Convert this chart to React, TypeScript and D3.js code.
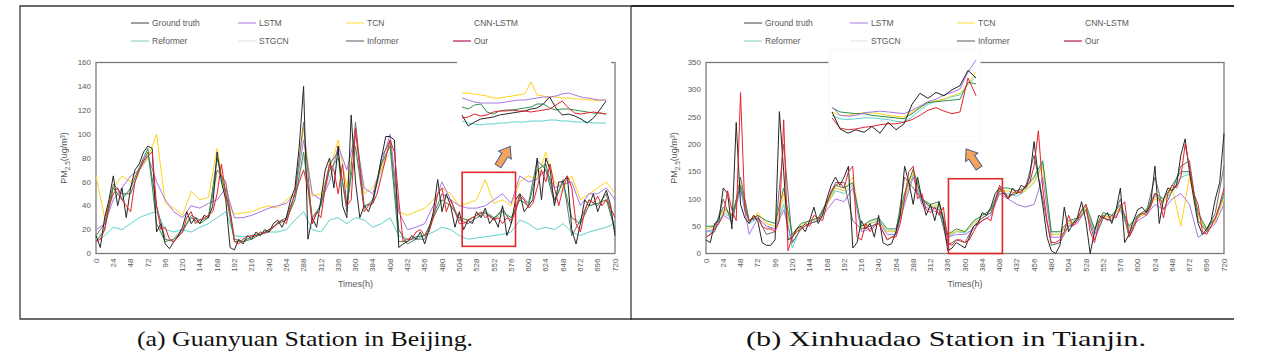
import React from "react";
import * as d3 from "d3";

// hourly grids used by the series below
const hours6 = d3.range(0, 721, 6);
const hours12 = d3.range(0, 721, 12);
const xTicks = d3.range(0, 721, 24);

// ---- (a) Guanyuan Station in Beijing ----
const bjTruth = [
  15, 5, 30, 45, 65, 40, 55, 30, 55, 70,
  75, 85, 90, 88, 18, 25, 8, 4, 10, 15,
  22, 35, 25, 30, 25, 32, 30, 40, 85, 60,
  45, 5, 3, 12, 8, 15, 12, 18, 15, 20,
  18, 25, 28, 22, 30, 45, 55, 90, 140, 12,
  30, 22, 45, 70, 80, 55, 90, 40, 30, 116,
  60, 30, 40, 35, 45, 60, 80, 98, 98, 95,
  5, 8, 10, 15, 12, 18, 8, 20, 35, 62,
  35, 50, 40, 22, 35, 20, 28, 25, 35, 30,
  38, 25, 30, 22, 40, 15, 25, 45, 50, 35,
  40, 45, 80, 45, 80, 70, 40, 60, 60, 65,
  20, 8, 25, 45, 40, 50, 35, 45, 53, 40,
  15,
];
const bjOur = [
  10, 12, 20, 40, 50, 55, 45, 40, 35, 60,
  70, 78, 82, 85, 40, 20, 22, 12, 10, 14,
  18, 30, 35, 25, 28, 30, 32, 35, 50, 75,
  50, 35, 10, 8, 12, 14, 15, 15, 18, 17,
  20, 22, 25, 28, 25, 38, 50, 60, 70, 55,
  25, 35, 30, 55, 75, 70, 50, 75, 40, 45,
  105, 70, 35, 40, 42, 50, 65, 80, 95, 85,
  45, 10, 12, 12, 18, 20, 15, 18, 30, 50,
  55, 35, 45, 35, 25, 25, 28, 30, 32, 35,
  30, 32, 28, 30, 25, 30, 28, 35, 48, 45,
  38, 42, 55, 70, 60, 75, 55, 40, 55, 65,
  55, 25, 18, 35, 45, 42, 48, 40, 45, 38,
  30,
];
const bjTcn = [
  65, 30, 55, 65, 60, 70, 80, 100, 42, 38,
  32, 52, 45, 47, 88, 45, 33, 34, 35, 38,
  40, 38, 45, 50, 105, 48, 50, 70, 95, 55,
  100, 50, 55, 70, 95, 35, 32, 35, 38, 45,
  55, 50, 40, 42, 45, 62, 42, 45, 40, 60,
  65, 62, 85, 60, 55, 65, 45, 50, 55, 60,
  50,
];
const bjLstm = [
  20, 25, 45, 55, 65, 70, 82, 60, 45, 35,
  30, 40, 38, 42, 45, 55, 30, 30, 32, 35,
  38, 40, 42, 50, 95, 50, 45, 60, 90, 70,
  100, 55, 50, 75, 100, 35, 20, 22, 25, 40,
  60, 45, 40, 38, 38, 40, 45, 50, 42, 65,
  60, 62, 70, 55, 58, 60, 40, 50, 50, 55,
  45,
];
const bjReformer = [
  10, 15, 22, 20, 25, 30, 33, 35, 20, 18,
  20, 18, 22, 25, 30, 35, 15, 14, 15, 17,
  18, 18, 20, 28, 35, 20, 18, 28, 30, 25,
  30, 28, 22, 25, 30, 15, 12, 12, 15, 18,
  22, 20, 15, 12, 13, 14, 15, 16, 18, 28,
  25, 20, 22, 20, 25, 18, 15, 18, 20, 22,
  25,
];
const bjCnnLstm = [
  10, 20, 55, 45, 55, 72, 88, 25, 10, 12,
  20, 30, 25, 30, 80, 50, 10, 10, 14, 16,
  20, 25, 28, 45, 85, 30, 40, 70, 80, 40,
  90, 38, 45, 75, 90, 10, 10, 14, 15, 30,
  45, 40, 30, 28, 32, 35, 30, 35, 30, 45,
  40, 70, 75, 45, 60, 30, 25, 40, 42, 45,
  20,
];
const bjInformer = [
  15, 25, 58, 50, 50, 70, 85, 40, 12, 10,
  18, 32, 28, 30, 70, 60, 12, 10, 12, 16,
  18, 26, 30, 50, 110, 25, 42, 75, 85, 35,
  110, 40, 42, 80, 95, 20, 8, 12, 12, 32,
  50, 45, 28, 25, 30, 34, 28, 38, 25, 50,
  42, 78, 70, 42, 62, 15, 28, 45, 40, 50,
  18,
];
const bjStgcn = [
  12, 22, 50, 48, 52, 68, 80, 35, 15, 14,
  20, 30, 27, 30, 65, 55, 15, 12, 15, 17,
  20, 24, 28, 45, 80, 30, 38, 65, 75, 40,
  85, 40, 42, 70, 85, 20, 12, 14, 16, 30,
  45, 40, 30, 28, 30, 32, 30, 32, 30, 45,
  42, 65, 70, 45, 55, 30, 28, 40, 42, 45,
  30,
];
// zoomed window (hours 506-581)
const bjInsetTcn = [42, 42, 41, 40, 39, 37, 37, 38, 39, 40, 41, 53, 40, 39, 38, 38, 37, 37, 36, 36, 35, 35, 34, 36];
const bjInsetLstm = [37, 35, 33, 32, 32, 32, 32, 33, 34, 35, 35, 36, 37, 38, 38, 39, 41, 42, 40, 38, 37, 36, 35, 35];
const bjInsetCnn = [28, 26, 30, 31, 23, 21, 24, 25, 25, 26, 27, 28, 31, 31, 27, 25, 26, 26, 25, 24, 23, 22, 22, 21];
const bjInsetOur = [17, 18, 21, 19, 20, 23, 24, 24, 25, 24, 24, 23, 24, 25, 26, 30, 34, 27, 22, 21, 22, 23, 22, 21];
const bjInsetTruth = [20, 9, 13, 16, 17, 18, 20, 21, 22, 23, 24, 26, 27, 31, 38, 27, 20, 21, 19, 16, 12, 17, 25, 34];
const bjInsetReformer = [14, 12, 11, 10, 11, 11, 12, 12, 13, 13, 13, 14, 14, 14, 15, 15, 14, 14, 13, 13, 13, 12, 12, 12];

// ---- (b) Xinhuadao Station in Tianjin ----
const tjTruth = [
  25, 20, 55, 60, 120, 110, 45, 240, 90, 65,
  55, 70, 60, 20, 15, 15, 25, 260, 150, 25,
  30, 45, 50, 40, 60, 85, 55, 70, 100, 125,
  140, 125, 140, 160, 10, 20, 60, 45, 55, 30,
  70, 20, 15, 18, 40, 70, 160, 130, 90, 140,
  100, 70, 90, 60, 95, 60, 5, 10, 20, 15,
  10, 30, 50, 55, 75, 70, 85, 110, 120, 110,
  100, 120, 110, 125, 120, 140, 205, 140, 90, 30,
  5, 0, 15, 85, 40, 55, 65, 95, 60, 0,
  40, 70, 65, 75, 55, 80, 120, 20, 35, 60,
  80, 85, 75, 90, 160, 55, 100, 120, 115, 125,
  180, 210, 150, 100, 55, 35, 45, 60, 100, 130,
  220,
];
const tjOur = [
  30, 35, 45, 55, 70, 115, 80, 60, 295, 80,
  60, 65, 70, 50, 45, 45, 40, 60, 245, 5,
  30, 40, 45, 55, 50, 70, 65, 60, 90, 115,
  125, 130, 120, 150, 160, 30, 25, 55, 40, 50,
  55, 40, 25, 30, 30, 55, 100, 150, 160, 100,
  110, 80, 75, 85, 70, 85, 20, 15, 25, 25,
  20, 25, 40, 55, 60, 65, 60, 95, 125, 115,
  100, 110, 115, 110, 125, 130, 160, 225, 120, 60,
  20, 20, 25, 40, 70, 50, 60, 80, 90, 40,
  20, 55, 70, 60, 70, 65, 85, 95, 30, 45,
  65, 75, 70, 85, 110, 100, 65, 110, 125, 120,
  140, 200, 160, 110, 90, 40, 35, 50, 65, 90,
  120,
];
const tjLstm = [
  40, 45, 70, 60, 120, 35, 65, 50, 45, 80,
  20, 45, 55, 60, 80, 100, 95, 120, 40, 45,
  60, 35, 35, 90, 140, 90, 80, 75, 30, 35,
  35, 45, 60, 70, 110, 100, 90, 85, 90, 140,
  30, 30, 50, 55, 80, 35, 65, 60, 80, 40,
  60, 70, 90, 80, 100, 110, 90, 30, 40, 55,
  90,
];
const tjTcn = [
  45, 50, 80, 70, 130, 60, 75, 55, 50, 110,
  30, 50, 60, 65, 90, 120, 115, 140, 45, 55,
  60, 40, 40, 100, 150, 100, 85, 90, 35, 40,
  40, 55, 65, 75, 115, 115, 110, 115, 130, 160,
  35, 35, 55, 60, 85, 45, 70, 65, 85, 45,
  65, 75, 100, 95, 120, 50, 140, 70, 40, 60,
  100,
];
const tjCnnLstm = [
  50, 50, 85, 70, 125, 60, 70, 60, 55, 120,
  35, 55, 60, 65, 95, 125, 120, 130, 50, 60,
  65, 45, 45, 110, 155, 100, 90, 95, 35, 45,
  40, 60, 70, 80, 120, 120, 115, 120, 140, 170,
  40, 40, 60, 65, 90, 45, 75, 70, 90, 50,
  70, 80, 110, 100, 125, 150, 150, 75, 45, 65,
  110,
];
const tjReformer = [
  40, 40, 75, 65, 115, 55, 65, 50, 45, 90,
  10, 50, 55, 60, 90, 115, 110, 125, 45, 55,
  60, 40, 40, 100, 145, 95, 85, 85, 30, 40,
  38, 55, 65, 75, 110, 110, 105, 115, 130, 165,
  35, 35, 55, 60, 85, 40, 70, 65, 85, 45,
  65, 75, 105, 95, 115, 140, 145, 70, 40, 60,
  105,
];
const tjStgcn = [
  48, 48, 80, 68, 120, 58, 68, 55, 50, 100,
  30, 52, 58, 62, 92, 120, 115, 128, 48, 58,
  62, 42, 42, 105, 150, 98, 88, 90, 32, 42,
  40, 58, 68, 78, 115, 115, 110, 118, 135, 165,
  38, 38, 58, 62, 88, 42, 72, 68, 88, 48,
  68, 78, 108, 98, 120, 145, 148, 72, 42, 62,
  108,
];
const tjInformer = [
  30, 40, 100, 55, 140, 60, 65, 35, 40, 200,
  20, 45, 55, 60, 95, 130, 130, 60, 45, 50,
  55, 25, 35, 140, 120, 100, 85, 80, 15, 25,
  20, 50, 65, 75, 115, 105, 110, 120, 180, 100,
  15, 20, 50, 60, 80, 25, 65, 60, 100, 30,
  70, 75, 140, 80, 115, 160, 170, 60, 40, 75,
  160,
];
// zoomed window (hours 336-408)
const tjInsetTruth = [33, 13, 8, 12, 9, 16, 8, 21, 12, 19, 42, 55, 49, 56, 52, 59, 64, 82, 73];
const tjInsetOur = [26, 14, 12, 13, 15, 16, 18, 19, 19, 21, 24, 29, 35, 38, 34, 31, 33, 73, 52];
const tjInsetLstm = [39, 29, 28, 29, 32, 33, 34, 33, 32, 31, 35, 40, 45, 48, 53, 56, 60, 80, 94];
const tjInsetTcn = [33, 29, 29, 31, 32, 32, 31, 29, 28, 27, 33, 39, 44, 46, 48, 52, 55, 66, 80];
const tjInsetReformer = [29, 25, 24, 25, 26, 26, 25, 24, 22, 21, 27, 35, 42, 46, 48, 51, 53, 65, 75];
const tjInsetCnn = [38, 33, 32, 31, 31, 29, 28, 27, 26, 25, 31, 38, 44, 45, 46, 47, 48, 68, 66];

const legendNames = [
  ["Ground truth", "LSTM", "TCN", "CNN-LSTM"],
  ["Reformer", "STGCN", "Informer", "Our"],
];

const colors: Record<string, string> = {
  "Ground truth": "#262626",
  LSTM: "#a676e8",
  TCN: "#ffd21a",
  "CNN-LSTM": "#2f8f4e",
  Reformer: "#5ad4c8",
  STGCN: "#cfe8d6",
  Informer: "#6e6e6e",
  Our: "#e8222c",
};
const legendColors: Record<string, string> = {
  "Ground truth": "#777",
  LSTM: "#c0a0f0",
  TCN: "#ffe56a",
  "CNN-LSTM": "none",
  Reformer: "#a6dcd6",
  STGCN: "#e8efe9",
  Informer: "#888",
  Our: "#c23a78",
};

const font = "'Liberation Sans', Arial, sans-serif";
const txt = "#595959";

type Series = { name: string; hours: number[]; values: number[] };

type PanelCfg = {
  left: number; right: number; top: number; bottom: number;
  yMax: number; yStep: number;
  series: Series[];
  inset: { name: string; values: number[] }[];
  insetBox: [number, number, number, number];
  insetX: [number, number]; insetY: [number, number]; insetMax: number;
  zoomHours: [number, number]; zoomVals: [number, number];
  arrow: [number, number, number];
  legendX: number[];
  yLabelX: number;
  faintInset: boolean;
};

const Arrow = ({ x, y, angle }: { x: number; y: number; angle: number }) => (
  <polygon
    points="0,-3.5 13,-3.5 13,-7.5 23,0 13,7.5 13,3.5 0,3.5"
    transform={`translate(${x},${y}) rotate(${angle})`}
    fill="#f4a45c"
    stroke="#4d5f8a"
    strokeWidth={1}
  />
);

const Panel = ({ c }: { c: PanelCfg }) => {
  const x = d3.scaleLinear().domain([0, 720]).range([c.left, c.right]);
  const y = d3.scaleLinear().domain([0, c.yMax]).range([c.bottom, c.top]);
  const yTicks = d3.range(0, c.yMax + 1, c.yStep);
  const n = c.inset[0].values.length;
  const ix = d3.scaleLinear().domain([0, n - 1]).range(c.insetX);
  const iy = d3.scaleLinear().domain([0, c.insetMax]).range(c.insetY);
  const insetLine = d3.line<number>().x((_, i) => ix(i)).y((d) => iy(d));
  const [bx, by, bw, bh] = c.insetBox;
  return (
    <g>
      {/* legend */}
      {legendNames.map((row, r) =>
        row.map((name, k) => {
          const lx = c.legendX[k];
          const ly = r === 0 ? 23 : 41;
          return (
            <g key={name}>
              {legendColors[name] !== "none" && (
                <line x1={lx} x2={lx + 18} y1={ly} y2={ly} stroke={legendColors[name]} strokeWidth={1.4} />
              )}
              <text x={lx + 21} y={ly + 3} fontSize={8.5} fill={txt} fontFamily={font}>{name}</text>
            </g>
          );
        })
      )}
      {/* plot frame */}
      <rect x={c.left} y={c.top} width={c.right - c.left} height={c.bottom - c.top} fill="none" stroke="#7a7a7a" strokeWidth={1.3} />
      {/* series */}
      {c.series.map((s) => {
        const line = d3.line<number>().x((_, i) => x(s.hours[i])).y((d) => y(d));
        return <path key={s.name} d={line(s.values) || ""} fill="none" stroke={colors[s.name]} strokeWidth={1} strokeLinejoin="round" />;
      })}
      {/* zoom box */}
      <rect
        x={x(c.zoomHours[0])}
        y={y(c.zoomVals[1])}
        width={x(c.zoomHours[1]) - x(c.zoomHours[0])}
        height={y(c.zoomVals[0]) - y(c.zoomVals[1])}
        fill="none"
        stroke="#e3262b"
        strokeWidth={1.6}
      />
      {/* inset */}
      <rect x={bx} y={by} width={bw} height={bh} fill="#fff" stroke={c.faintInset ? "#f7f7f7" : "none"} />
      {c.inset.map((s) => (
        <path key={s.name} d={insetLine(s.values) || ""} fill="none" stroke={colors[s.name]} strokeWidth={1} strokeLinejoin="round" />
      ))}
      <Arrow x={c.arrow[0]} y={c.arrow[1]} angle={c.arrow[2]} />
      {/* y axis */}
      {yTicks.map((t) => (
        <text key={t} x={c.left - 5} y={y(t)} dy="0.33em" textAnchor="end" fontSize={8} fill={txt} fontFamily={font}>{t}</text>
      ))}
      <text
        transform={`translate(${c.yLabelX},${(c.top + c.bottom) / 2}) rotate(-90)`}
        textAnchor="middle"
        fontSize={9}
        fill={txt}
        fontFamily={font}
      >
        PM<tspan fontSize={6.5} dy={2.5}>2.5</tspan><tspan dy={-2.5}>(ug/m³)</tspan>
      </text>
      {/* x axis */}
      {xTicks.map((t) => (
        <text
          key={t}
          transform={`translate(${x(t)},${c.bottom + 5}) rotate(-90)`}
          dy="0.33em"
          textAnchor="end"
          fontSize={8}
          fill={txt}
          fontFamily={font}
        >
          {t}
        </text>
      ))}
      <text x={(c.left + c.right) / 2} y={287} textAnchor="middle" fontSize={9} fill={txt} fontFamily={font}>Times(h)</text>
    </g>
  );
};

const bjPanel: PanelCfg = {
  left: 96, right: 615, top: 62.5, bottom: 253.5, yMax: 160, yStep: 20,
  series: [
    { name: "STGCN", hours: hours12, values: bjStgcn },
    { name: "Reformer", hours: hours12, values: bjReformer },
    { name: "TCN", hours: hours12, values: bjTcn },
    { name: "LSTM", hours: hours12, values: bjLstm },
    { name: "Informer", hours: hours12, values: bjInformer },
    { name: "CNN-LSTM", hours: hours12, values: bjCnnLstm },
    { name: "Ground truth", hours: hours6, values: bjTruth },
    { name: "Our", hours: hours6, values: bjOur },
  ],
  inset: [
    { name: "Reformer", values: bjInsetReformer },
    { name: "TCN", values: bjInsetTcn },
    { name: "LSTM", values: bjInsetLstm },
    { name: "CNN-LSTM", values: bjInsetCnn },
    { name: "Ground truth", values: bjInsetTruth },
    { name: "Our", values: bjInsetOur },
  ],
  insetBox: [457, 55, 154, 86],
  insetX: [462, 606], insetY: [135, 75], insetMax: 60,
  zoomHours: [508, 582], zoomVals: [6, 68],
  arrow: [498, 166, -58],
  legendX: [131, 238, 346, 453],
  yLabelX: 67,
  faintInset: false,
};

const tjPanel: PanelCfg = {
  left: 706, right: 1224, top: 62.5, bottom: 253.5, yMax: 350, yStep: 50,
  series: [
    { name: "STGCN", hours: hours12, values: tjStgcn },
    { name: "Reformer", hours: hours12, values: tjReformer },
    { name: "TCN", hours: hours12, values: tjTcn },
    { name: "LSTM", hours: hours12, values: tjLstm },
    { name: "Informer", hours: hours12, values: tjInformer },
    { name: "CNN-LSTM", hours: hours12, values: tjCnnLstm },
    { name: "Ground truth", hours: hours6, values: tjTruth },
    { name: "Our", hours: hours6, values: tjOur },
  ],
  inset: [
    { name: "Reformer", values: tjInsetReformer },
    { name: "TCN", values: tjInsetTcn },
    { name: "CNN-LSTM", values: tjInsetCnn },
    { name: "LSTM", values: tjInsetLstm },
    { name: "Our", values: tjInsetOur },
    { name: "Ground truth", values: tjInsetTruth },
  ],
  insetBox: [829, 50, 151, 91],
  insetX: [832, 976], insetY: [140, 55], insetMax: 100,
  zoomHours: [337, 412], zoomVals: [0, 137],
  arrow: [979, 168, -124],
  legendX: [744, 850, 957, 1064],
  yLabelX: 677,
  faintInset: true,
};

const serif = "'Liberation Serif', 'Times New Roman', serif";

const App = () => (
  <svg width={1280} height={364} style={{ position: "absolute", left: 0, top: 0, background: "#fff" }}>
    <rect width={1280} height={364} fill="#fff" />
    {/* outer frames */}
    <polyline points="631,6 20,6 20,319 631,319" fill="none" stroke="#3a3a3a" strokeWidth={1.3} />
    <line x1={631} x2={631} y1={6} y2={320} stroke="#3a3a3a" strokeWidth={1.3} />
    <line x1={631} x2={1234} y1={6} y2={6} stroke="#2a2a2a" strokeWidth={2} />
    <line x1={631} x2={1234} y1={319} y2={319} stroke="#2a2a2a" strokeWidth={1.6} />
    <Panel c={bjPanel} />
    <Panel c={tjPanel} />
    <text x={305} y={346} textAnchor="middle" fontSize={22} fontFamily={serif} fill="#111" textLength={336} lengthAdjust="spacingAndGlyphs">
      (a) Guanyuan Station in Beijing.
    </text>
    <text x={946} y={346} textAnchor="middle" fontSize={22} fontFamily={serif} fill="#111" textLength={400} lengthAdjust="spacingAndGlyphs">
      (b) Xinhuadao Station in Tianjin.
    </text>
  </svg>
);

export default App;
